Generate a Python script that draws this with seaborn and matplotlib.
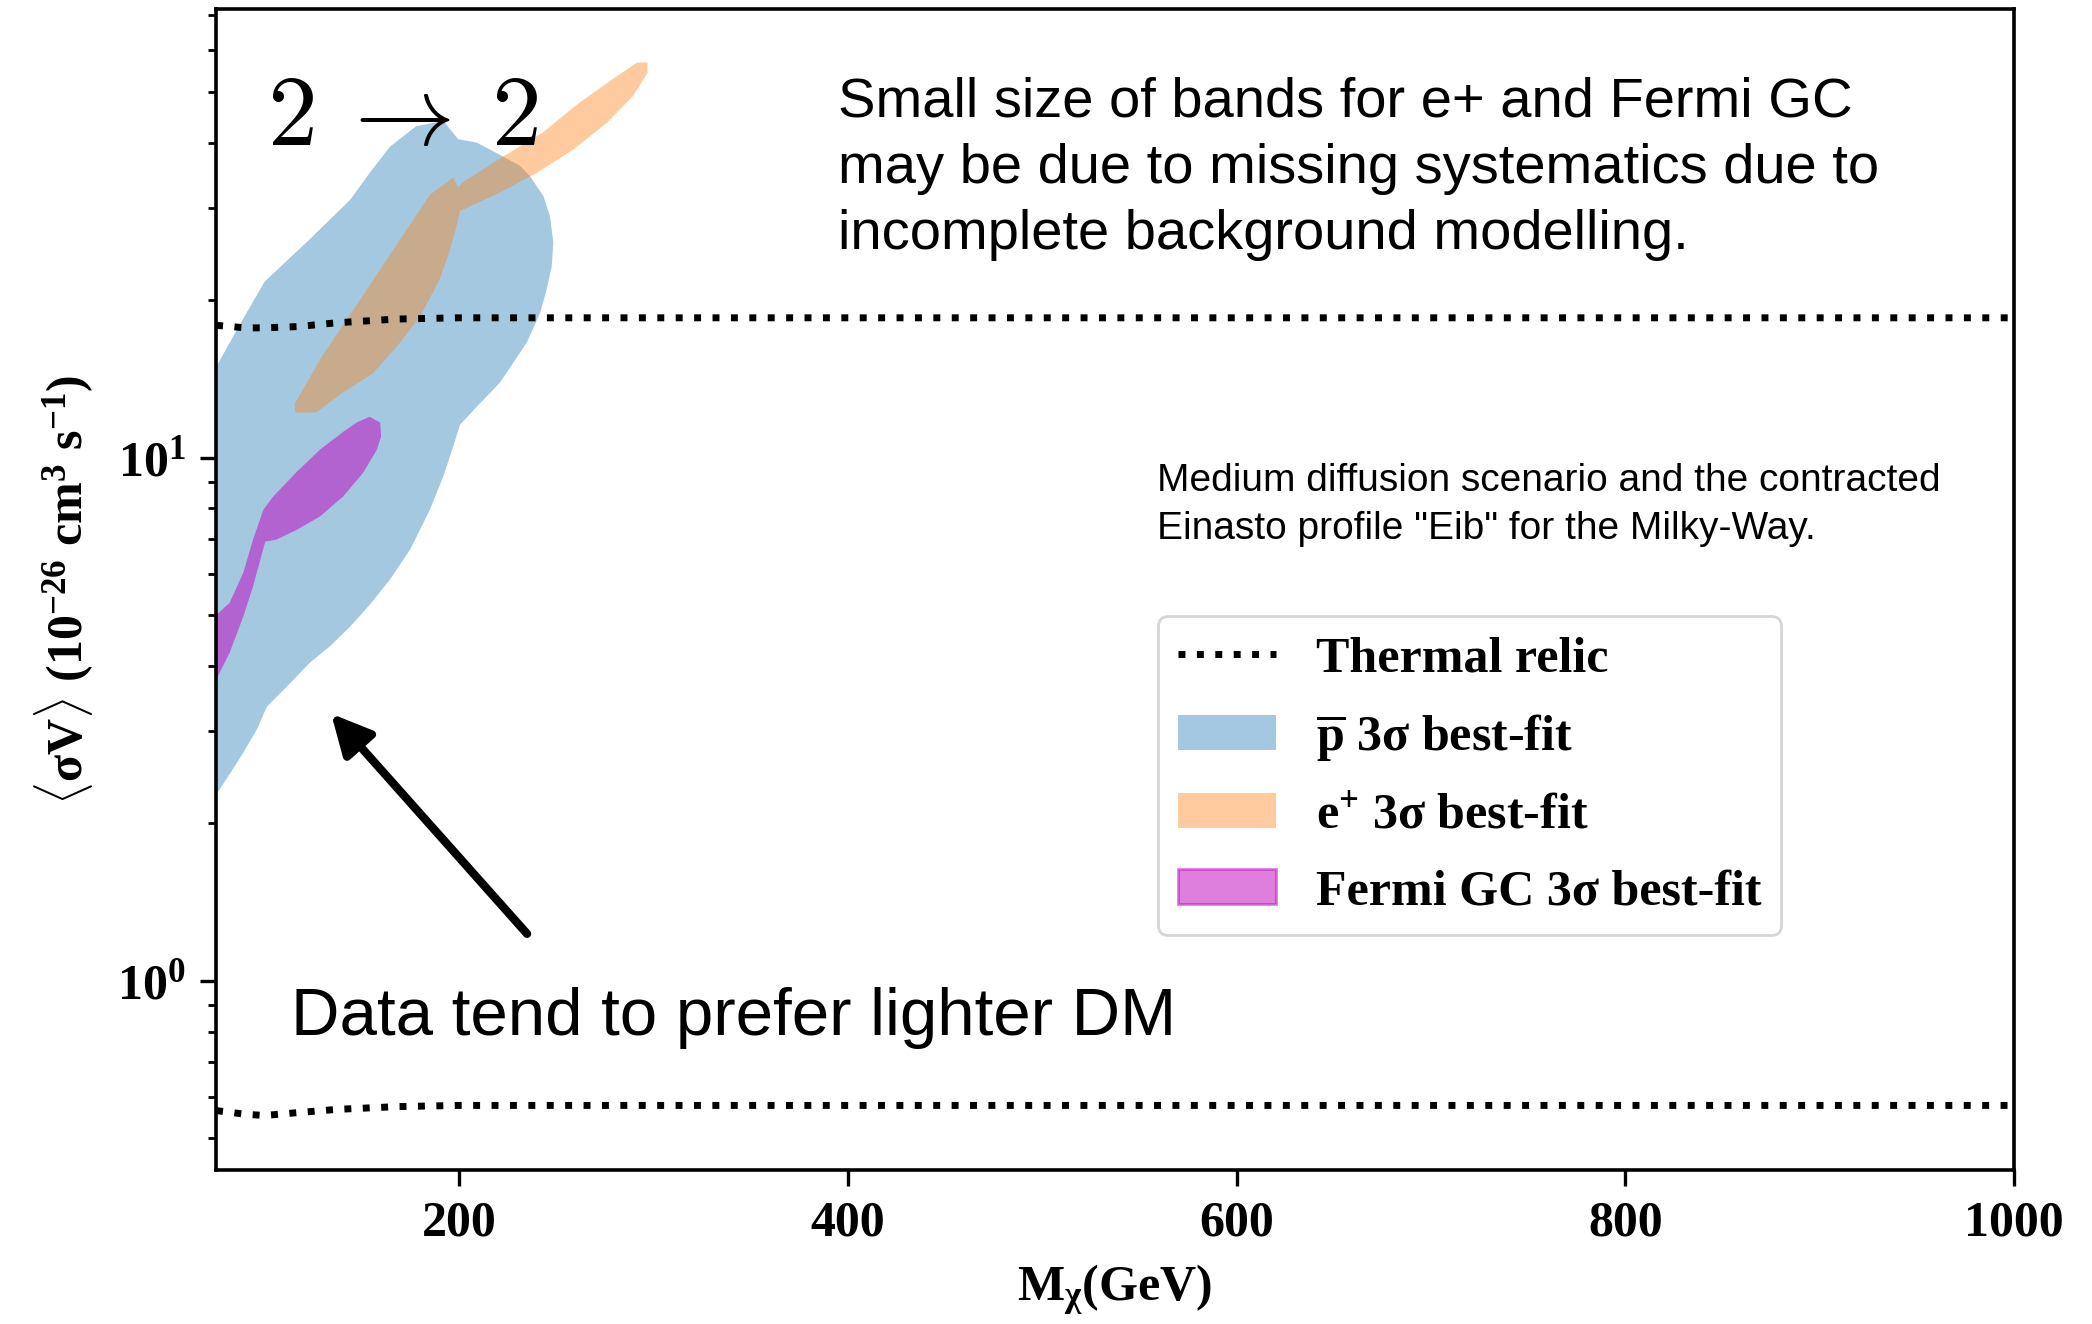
import numpy as np
import pandas as pd
import matplotlib
matplotlib.use("Agg")
import matplotlib.pyplot as plt
import seaborn as sns
from matplotlib.font_manager import FontProperties
from matplotlib.patches import Patch
from matplotlib.lines import Line2D

# ---- thermal relic cross-section (two reference curves) ----
relic_mass = [75, 90, 100, 117, 137, 168, 200, 400, 600, 800, 1000]
relic_upper = [17.9, 17.7, 17.7, 17.8, 18.1, 18.4, 18.5, 18.5, 18.5, 18.5, 18.5]
relic_lower = [0.565, 0.556, 0.553, 0.560, 0.568, 0.575, 0.578, 0.578, 0.578, 0.578, 0.578]

# ---- antiproton 3 sigma region (closed outline: upper edge, then lower edge back) ----
pbar_mass = [75, 87, 100, 123, 144, 154, 164.5, 178, 192, 195.4, 199.6, 209, 221, 231.4,
             236.5, 243.4, 246.8, 248.5, 247.7, 245, 241.7, 234.9, 228, 221, 210.8, 200.5,
             197, 191.9, 185, 174.8, 164.5, 154, 143.9, 133.6, 123.4, 111.4, 101.1, 95.9,
             89, 82.2, 75]
pbar_sigv = [14.9, 17.9, 21.7, 26.1, 31.1, 35.0, 39.3, 43.0, 44.0, 42.4, 40.6, 40.0, 37.9, 36.1,
             34.5, 31.6, 28.9, 25.8, 23.2, 20.9, 18.9, 16.6, 15.2, 13.9, 12.7, 11.56,
             10.5, 9.21, 7.95, 6.67, 5.85, 5.23, 4.75, 4.36, 4.06, 3.65, 3.34, 3.02,
             2.73, 2.49, 2.27]

# ---- positron 3 sigma region ----
epos_mass = [115.6, 115.6, 129.4, 149, 169.6, 185, 197, 199.5, 202, 222.6, 243, 262, 281, 291.6,
             297, 297, 289.5, 276, 258.8, 240, 221, 202.2, 200.5, 198.7, 195.4, 190, 180,
             168, 155.8, 140, 126.6]
epos_sigv = [12.2, 12.7, 15.6, 20.0, 26.1, 31.8, 34.3, 32.8, 33.6, 37.6, 41.8, 47.7, 53.5, 56.9,
             56.9, 54.4, 49.1, 43.6, 38.8, 35.0, 32.1, 29.8, 29.6, 27.7, 25.0, 21.9, 18.6,
             16.3, 14.5, 13.3, 12.2]

# ---- Fermi Galactic Centre 3 sigma region ----
gc_mass = [75, 82, 89, 94, 99.3, 104.4, 116.6, 128.5, 140.4, 147.3, 154, 159.4, 159.9, 157.7,
           150.7, 140.4, 128.5, 116.6, 106, 100.3, 94, 89, 82, 75]
gc_sigv = [5.0, 5.28, 6.03, 6.97, 7.95, 8.43, 9.4, 10.36, 11.2, 11.67, 11.97, 11.67, 10.97, 10.35,
           9.36, 8.43, 7.72, 7.28, 6.97, 6.91, 5.67, 4.97, 4.24, 3.76]

x_ticks = [200, 400, 600, 800, 1000]
y_ticks = [1, 10]
y_ticklabels = [r"$\mathbf{10^{0}}$", r"$\mathbf{10^{1}}$"]

legend_labels = ["Thermal relic",
                 r"$\mathbf{\overline{p}}$ 3σ best-fit",
                 r"$\mathbf{e^{+}}$ 3σ best-fit",
                 "Fermi GC 3σ best-fit"]

sns.set_theme(style="ticks")
plt.rcParams["font.family"] = ["Liberation Serif", "DejaVu Serif"]
plt.rcParams["font.weight"] = "bold"
plt.rcParams["mathtext.fontset"] = "custom"
plt.rcParams["mathtext.rm"] = "Liberation Serif:bold"
plt.rcParams["mathtext.bf"] = "Liberation Serif:bold"
plt.rcParams["mathtext.it"] = "Liberation Serif:italic:bold"
for key in ["axes.edgecolor", "text.color", "axes.labelcolor", "xtick.color", "ytick.color"]:
    plt.rcParams[key] = "black"

fig = plt.figure(figsize=(10.46, 6.62), dpi=200)
ax = fig.add_axes([0.1033, 0.1163, 0.8594, 0.8769])

blue = "tab:blue"
orange = "tab:orange"
magenta = "#bf00bf"

ax.fill(pbar_mass, pbar_sigv, color=blue, alpha=0.4, lw=0, zorder=1)
ax.fill(epos_mass, epos_sigv, color=orange, alpha=0.4, lw=0, zorder=2)
ax.fill(gc_mass, gc_sigv, color=magenta, alpha=0.5, lw=0, zorder=2)

relic_df = pd.DataFrame({"mass": relic_mass, "upper": relic_upper, "lower": relic_lower})
sns.lineplot(data=relic_df, x="mass", y="upper", ax=ax, color="black", lw=2.5, ls=":", zorder=3)
sns.lineplot(data=relic_df, x="mass", y="lower", ax=ax, color="black", lw=2.5, ls=":", zorder=3)

ax.set_yscale("log")
ax.set_xlim(75, 1000)
ax.set_ylim(0.435, 72)

ax.set_xticks(x_ticks)
ax.set_xticklabels([str(t) for t in x_ticks])
ax.set_yticks(y_ticks)
ax.set_yticklabels(y_ticklabels)
ax.xaxis.set_minor_locator(matplotlib.ticker.NullLocator())
ax.yaxis.set_minor_locator(matplotlib.ticker.LogLocator(base=10, subs=np.arange(2, 10)))
ax.yaxis.set_minor_formatter(matplotlib.ticker.NullFormatter())

tick_font = FontProperties(family="Liberation Serif", weight="bold", size=18, math_fontfamily="custom")
for lab in ax.get_xticklabels() + ax.get_yticklabels():
    lab.set_fontproperties(tick_font)

ax.tick_params(which="major", direction="out", length=5.8, width=1.2, color="black", pad=5)
ax.tick_params(which="minor", direction="out", length=3.0, width=1.0, color="black")
for sp in ax.spines.values():
    sp.set_visible(True)
    sp.set_linewidth(1.3)
    sp.set_color("black")

label_font = FontProperties(family="Liberation Serif", weight="bold", size=18, math_fontfamily="custom")
ax.set_xlabel(r"$\mathbf{M_{\chi}}$(GeV)", fontproperties=label_font, labelpad=6)
ax.set_ylabel(r"$\langle\mathbf{\sigma V}\rangle\ \mathbf{(10^{-26}\ cm^{3}\ s^{-1})}$",
              fontproperties=label_font, labelpad=8)

# annotations
ax.text(171, 44, r"$2\:\rightarrow\:2$", fontsize=36, math_fontfamily="cm",
        ha="center", va="center", color="black")
ax.text(395, 53.5, "Small size of bands for e+ and Fermi GC\nmay be due to missing systematics due to\n"
        "incomplete background modelling.", family="Liberation Sans", weight="normal",
        fontsize=20.2, ha="left", va="top", linespacing=1.36)
ax.text(559, 9.75, "Medium diffusion scenario and the contracted\nEinasto profile \"Eib\" for the Milky-Way.",
        family="Liberation Sans", weight="normal", fontsize=14.0, ha="left", va="top", linespacing=1.4)
ax.text(113.6, 0.85, "Data tend to prefer lighter DM", family="Liberation Sans", weight="normal",
        fontsize=24.2, ha="left", va="center")
ax.annotate("", xy=(134.2, 3.24), xytext=(235, 1.23),
            arrowprops=dict(arrowstyle="-|>", lw=3, color="black", mutation_scale=30,
                            shrinkA=0, shrinkB=0))

handles = [Line2D([], [], ls=":", color="black", lw=2.5),
           Patch(facecolor=blue, alpha=0.4, lw=0),
           Patch(facecolor=orange, alpha=0.4, lw=0),
           Patch(facecolor=magenta, edgecolor=magenta, alpha=0.5, lw=1)]
leg_font = FontProperties(family="Liberation Serif", weight="bold", size=18, math_fontfamily="custom")
ax.legend(handles, legend_labels, prop=leg_font, loc="upper left", bbox_to_anchor=(0.524, 0.477),
          borderaxespad=0, handlelength=1.95, labelspacing=0.6, frameon=True)

fig.savefig("out.png", dpi=200)
